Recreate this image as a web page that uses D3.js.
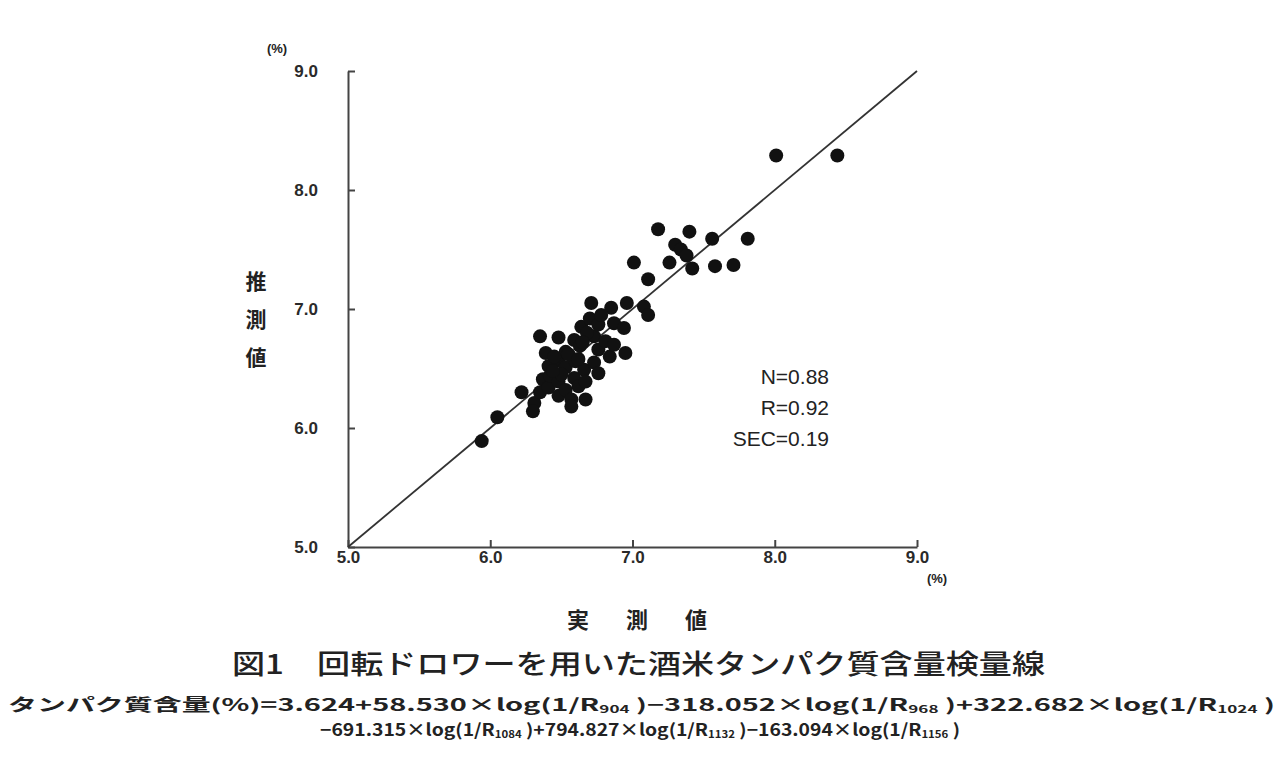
<!DOCTYPE html>
<html>
<head>
<meta charset="utf-8">
<script src="https://cdn.jsdelivr.net/npm/d3@7"></script>
<style>
  body { margin: 0; background: #fff; }
  text { fill: #222; }
  .tick text { font-family: "Liberation Sans", Arial, sans-serif; font-weight: bold; font-size: 17px; fill: #2a2a2a; }
  .jp { font-family: "Noto Sans CJK JP", sans-serif; font-weight: bold; }
</style>
</head>
<body>
<div id="chart"></div>
<script>
var measured = [5.94, 6.05, 6.22, 6.31, 6.30, 6.35, 6.35, 6.37, 6.39, 6.41, 6.41, 6.42, 6.48, 6.48, 6.48, 6.48,
    6.53, 6.53, 6.53, 6.57, 6.57, 6.59, 6.59, 6.60, 6.62, 6.63, 6.64, 6.66, 6.67, 6.67, 6.70, 6.71, 6.73, 6.73,
    6.76, 6.76, 6.76, 6.81, 6.84, 6.85, 6.87, 6.87, 6.94, 6.95, 6.96, 7.08, 7.11, 7.11, 7.01, 7.18, 7.26, 7.30,
    7.34, 7.38, 7.40, 7.42, 7.56, 7.58, 7.71, 7.81, 8.01, 8.44,
    6.45, 6.50, 6.55, 6.68, 6.62, 6.44, 6.65, 6.78];
var predicted = [5.89, 6.09, 6.30, 6.21, 6.14, 6.30, 6.77, 6.41, 6.63, 6.52, 6.34, 6.44, 6.76, 6.57, 6.39, 6.27,
    6.64, 6.51, 6.32, 6.24, 6.18, 6.74, 6.42, 6.56, 6.35, 6.69, 6.85, 6.49, 6.39, 6.24, 6.92, 7.05, 6.77, 6.55,
    6.87, 6.66, 6.46, 6.73, 6.60, 7.01, 6.88, 6.70, 6.84, 6.63, 7.05, 7.02, 6.95, 7.25, 7.39, 7.67, 7.39, 7.54,
    7.50, 7.45, 7.65, 7.34, 7.59, 7.36, 7.37, 7.59, 8.29, 8.29,
    6.60, 6.45, 6.62, 6.80, 6.58, 6.48, 6.72, 6.95];
var tickVals = [5, 6, 7, 8, 9];
var stats = ["N=0.88", "R=0.92", "SEC=0.19"];

var width = 1283, height = 757;

var svg = d3.select("#chart").append("svg")
    .attr("width", width)
    .attr("height", height);

svg.append("rect").attr("width", width).attr("height", height).attr("fill", "#fff");

var x = d3.scaleLinear().domain([5, 9]).range([348, 917]);
var y = d3.scaleLinear().domain([5, 9]).range([547, 71]);

var xAxis = svg.append("g")
    .attr("transform", "translate(0," + y(5) + ")")
    .call(d3.axisBottom(x).tickValues(tickVals).tickFormat(d3.format(".1f")).tickSize(-7).tickSizeOuter(0).tickPadding(4));
var yAxis = svg.append("g")
    .attr("transform", "translate(" + x(5) + ",0)")
    .call(d3.axisLeft(y).tickValues(tickVals).tickFormat(d3.format(".1f")).tickSize(-7).tickSizeOuter(0).tickPadding(30));

svg.selectAll(".domain, .tick line").attr("stroke", "#444").attr("stroke-width", 2);

// 1:1 line
svg.append("line")
    .attr("x1", x(5)).attr("y1", y(5))
    .attr("x2", x(9)).attr("y2", y(9))
    .attr("stroke", "#333").attr("stroke-width", 1.8);

svg.append("g").selectAll("circle")
    .data(measured)
    .enter().append("circle")
    .attr("cx", function (d) { return x(d); })
    .attr("cy", function (d, i) { return y(predicted[i]); })
    .attr("r", 7)
    .attr("fill", "#111");

// stats
svg.append("g").selectAll("text")
    .data(stats)
    .enter().append("text")
    .attr("x", 829)
    .attr("y", function (d, i) { return 384 + i * 31; })
    .attr("text-anchor", "end")
    .style("font-family", "Liberation Sans, Arial, sans-serif")
    .style("font-size", "21px")
    .text(function (d) { return d; });

// unit labels
svg.append("text").attr("x", 277).attr("y", 53).attr("text-anchor", "middle")
    .style("font-family", "Liberation Sans, Arial, sans-serif").style("font-size", "13px").style("font-weight", "bold")
    .text("(%)");
svg.append("text").attr("x", 937).attr("y", 583).attr("text-anchor", "middle")
    .style("font-family", "Liberation Sans, Arial, sans-serif").style("font-size", "13px").style("font-weight", "bold")
    .text("(%)");

// axis titles
var yTitle = ["推", "測", "値"];
svg.append("g").selectAll("text")
    .data(yTitle)
    .enter().append("text")
    .attr("class", "jp")
    .attr("x", 256)
    .attr("y", function (d, i) { return 289 + i * 38; })
    .attr("text-anchor", "middle")
    .style("font-size", "21px")
    .text(function (d) { return d; });

var xTitle = ["実", "測", "値"];
svg.append("g").selectAll("text")
    .data(xTitle)
    .enter().append("text")
    .attr("class", "jp")
    .attr("x", function (d, i) { return 578 + i * 59; })
    .attr("y", 628)
    .attr("text-anchor", "middle")
    .style("font-size", "22px")
    .text(function (d) { return d; });

// caption
svg.append("text")
    .attr("class", "jp")
    .attr("x", 232).attr("y", 674)
    .attr("textLength", 813).attr("lengthAdjust", "spacingAndGlyphs")
    .style("font-size", "27px").style("font-weight", "500")
    .text("図1　回転ドロワーを用いた酒米タンパク質含量検量線");

// regression formula
function formulaLine(parts, xPos, yPos, len) {
    var t = svg.append("text")
        .attr("class", "jp")
        .attr("x", xPos).attr("y", yPos)
        .attr("textLength", len).attr("lengthAdjust", "spacingAndGlyphs")
        .style("font-size", "17px");
    parts.forEach(function (p) {
        if (p.sub) {
            t.append("tspan").attr("dy", 2).style("font-size", "10px").text(p.sub);
            t.append("tspan").attr("dy", -2).text(p.after);
        } else {
            t.append("tspan").text(p.t);
        }
    });
}

formulaLine([
    { t: "タンパク質含量(%)=3.624+58.530×log(1/R" }, { sub: "904", after: " )−318.052×log(1/R" },
    { sub: "968", after: " )+322.682×log(1/R" }, { sub: "1024", after: " )" }
], 8, 711, 1267);
formulaLine([
    { t: "−691.315×log(1/R" }, { sub: "1084", after: " )+794.827×log(1/R" },
    { sub: "1132", after: " )−163.094×log(1/R" }, { sub: "1156", after: " )" }
], 320, 736, 640);
</script>
</body>
</html>
